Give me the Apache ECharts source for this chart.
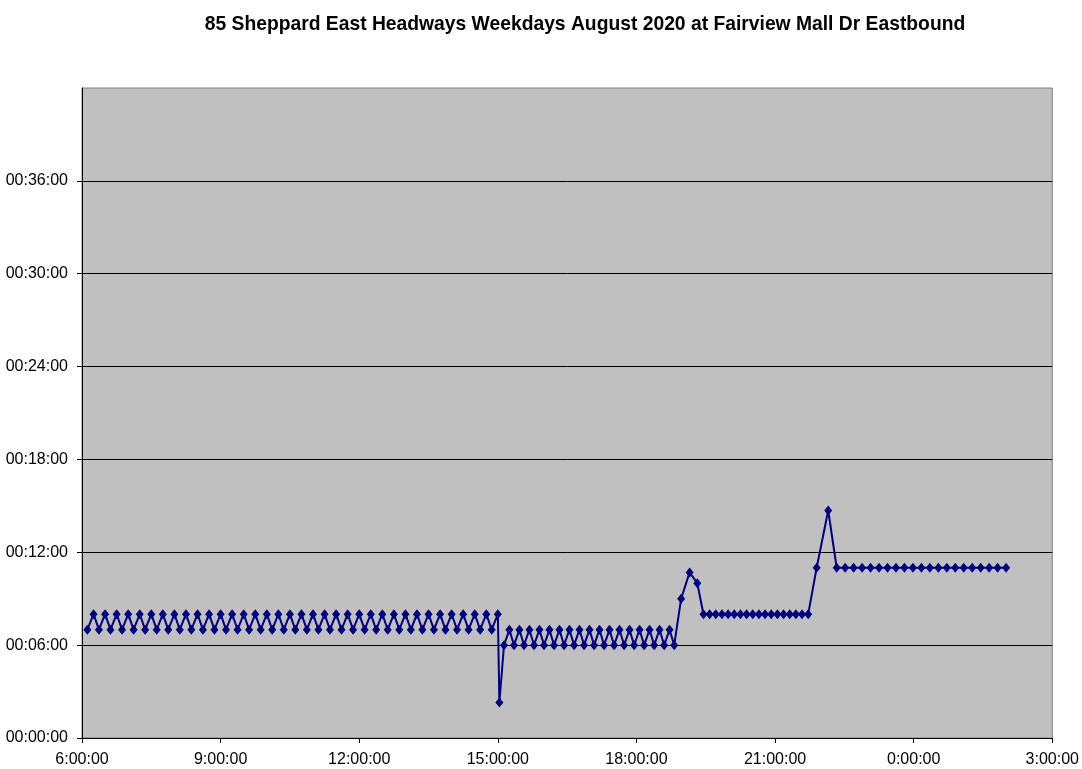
<!DOCTYPE html>
<html>
<head>
<meta charset="utf-8">
<script src="https://cdn.jsdelivr.net/npm/echarts@6/dist/echarts.min.js"></script>
<style>
html,body{margin:0;padding:0;background:#fff;}
#chart{width:1082px;height:769px;}
</style>
</head>
<body>
<div id="chart"></div>
<script>
// ---- Data (trip time, headway in minutes) ----
const amTimes = [
  "6:07","6:15","6:22","6:30","6:37","6:45","6:52","7:00",
  "7:07","7:15","7:22","7:30","7:37","7:45","7:52","8:00",
  "8:07","8:15","8:22","8:30","8:37","8:45","8:52","9:00",
  "9:07","9:15","9:22","9:30","9:37","9:45","9:52","10:00",
  "10:07","10:15","10:22","10:30","10:37","10:45","10:52","11:00",
  "11:07","11:15","11:22","11:30","11:37","11:45","11:52","12:00",
  "12:07","12:15","12:22","12:30","12:37","12:45","12:52","13:00",
  "13:07","13:15","13:22","13:30","13:37","13:45","13:52","14:00",
  "14:07","14:15","14:22","14:30","14:37","14:45","14:52","15:00"
];
const amHeadways = [
  7,8,7,8,7,8,7,8, 7,8,7,8,7,8,7,8, 7,8,7,8,7,8,7,8,
  7,8,7,8,7,8,7,8, 7,8,7,8,7,8,7,8, 7,8,7,8,7,8,7,8,
  7,8,7,8,7,8,7,8, 7,8,7,8,7,8,7,8, 7,8,7,8,7,8,7,8
];
const pmTimes = [
  "15:02","15:08","15:15","15:21","15:28","15:34","15:41","15:47","15:54",
  "16:00","16:07","16:13","16:20","16:26","16:33","16:39","16:46","16:52","16:59",
  "17:05","17:12","17:18","17:25","17:31","17:38","17:44","17:51","17:57",
  "18:04","18:10","18:17","18:23","18:30","18:36","18:43","18:49"
];
const pmHeadways = [
  2.3,6,7,6,7,6,7,6,7,
  6,7,6,7,6,7,6,7,6,7,
  6,7,6,7,6,7,6,7,6,
  7,6,7,6,7,6,7,6
];
const eveTimes = [
  "18:58","19:09","19:19","19:27","19:35","19:43","19:51","19:59",
  "20:07","20:15","20:23","20:31","20:39","20:47","20:55",
  "21:03","21:11","21:19","21:27","21:35","21:43","21:54"
];
const eveHeadways = [
  9,10.7,10,8,8,8,8,8,
  8,8,8,8,8,8,8,
  8,8,8,8,8,8,11
];
const nightTimes = [
  "22:09","22:20","22:31","22:42","22:53","23:04","23:15","23:26","23:37","23:48","23:59",
  "0:10","0:21","0:32","0:43","0:54","1:05","1:16","1:27","1:38","1:49","2:00"
];
const nightHeadways = [
  14.7,11,11,11,11,11,11,11,11,11,11,
  11,11,11,11,11,11,11,11,11,11,11
];
const yTickValues = [0,6,12,18,24,30,36];
const yTickLabels = ["00:00:00","00:06:00","00:12:00","00:18:00","00:24:00","00:30:00","00:36:00"];
const xTickLabels = ["6:00:00","9:00:00","12:00:00","15:00:00","18:00:00","21:00:00","0:00:00","3:00:00"];

// ---- Build series from the arrays ----
function toHours(s){
  const p = s.split(":");
  let h = parseInt(p[0],10) + parseInt(p[1],10)/60;
  if (h < 6) h += 24;
  return h;
}
const allTimes = amTimes.concat(pmTimes, eveTimes, nightTimes);
const allHeadways = amHeadways.concat(pmHeadways, eveHeadways, nightHeadways);
const seriesData = allTimes.map((t,i) => [toHours(t), allHeadways[i]]);

const FONT = "'Liberation Sans', Arial, sans-serif";
const chart = echarts.init(document.getElementById('chart'), null, {renderer:'canvas'});
chart.setOption({
  backgroundColor: '#ffffff',
  animation: false,
  title: {
    text: '85 Sheppard East Headways Weekdays August 2020 at Fairview Mall Dr Eastbound',
    left: 580,
    top: 10,
    textAlign: 'center',
    textStyle: {fontFamily: FONT, fontSize: 19.3, fontWeight: 'bold', color: '#000'}
  },
  grid: {
    left: 82, right: 27, top: 88, bottom: 31,
    show: true, backgroundColor: '#c0c0c0', borderColor: '#808080', borderWidth: 1
  },
  xAxis: {
    type: 'value', min: 6, max: 27, interval: 3,
    axisLine: {show: true, onZero: false, lineStyle: {color: '#000', width: 1}},
    axisTick: {show: true, length: 5, inside: false, lineStyle: {color: '#000'}},
    axisLabel: {
      margin: 14, color: '#000', fontFamily: FONT, fontSize: 16,
      formatter: (v) => xTickLabels[Math.round((v - 6) / 3)] || ''
    },
    splitLine: {show: false}
  },
  yAxis: {
    type: 'value', min: 0, max: 42, interval: 6,
    axisLine: {show: true, lineStyle: {color: '#000', width: 1}},
    axisTick: {show: true, length: 5, inside: false, customValues: yTickValues, lineStyle: {color: '#000'}},
    axisLabel: {
      margin: 14, color: '#000', fontFamily: FONT, fontSize: 16,
      formatter: (v) => yTickLabels[Math.round(v / 6)] || ''
    },
    splitLine: {show: true, lineStyle: {color: ['#000','#000','#000','#000','#000','#000','#000','#808080'], width: 1}}
  },
  series: [{
    type: 'line',
    data: seriesData,
    symbol: 'diamond',
    symbolSize: [8, 10],
    showAllSymbol: true,
    lineStyle: {color: '#000080', width: 2},
    itemStyle: {color: '#000080'}
  }]
});
</script>
</body>
</html>
